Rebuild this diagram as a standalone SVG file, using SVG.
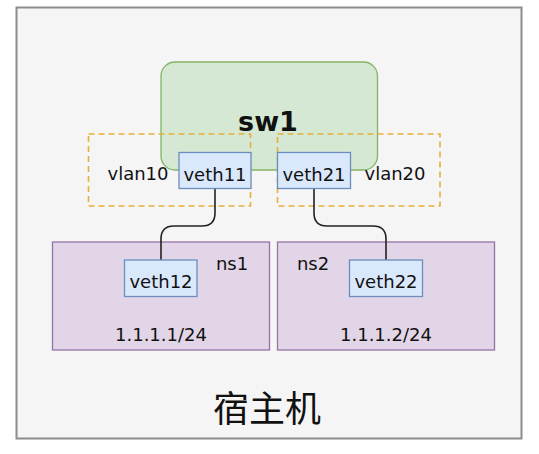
<svg xmlns="http://www.w3.org/2000/svg" width="539" height="454" viewBox="0 0 539 454">
<style>
  .t { font-family: "DejaVu Sans", "Liberation Sans", sans-serif; font-size: 18px; fill: #111; text-anchor: middle; }
  .port { fill: #dae8fc; stroke: #6c8ebf; stroke-width: 1.3; }
  .ns { fill: #e1d5e7; stroke: #9673a6; stroke-width: 1.3; }
  .vlan { fill: none; stroke: #e5b03a; stroke-width: 1.6; stroke-dasharray: 6 4; }
  .wire { fill: none; stroke: #222; stroke-width: 1.6; }
</style>
<rect width="539" height="454" fill="#ffffff"/>
<g id="host">
  <rect x="16.5" y="7.5" width="505" height="431" fill="#f5f5f5" stroke="#8c8c8c" stroke-width="2"/>
  <text x="267" y="422" style="font-family: 'Noto Sans CJK SC', 'Noto Sans', sans-serif; font-size: 36px; fill: #111; text-anchor: middle;">宿主机</text>
</g>
<g id="sw1">
  <rect x="161" y="62" width="216.5" height="108" rx="14" fill="#d5e8d4" stroke="#82b366" stroke-width="1.3"/>
  <text x="268" y="131" class="t" style="font-size: 27px; font-weight: bold;">sw1</text>
</g>
<g id="vlan10">
  <rect x="88.5" y="134" width="162" height="72" class="vlan"/>
  <text x="138" y="180" class="t">vlan10</text>
</g>
<g id="vlan20">
  <rect x="277.5" y="134" width="162.5" height="72" class="vlan"/>
  <text x="395" y="180" class="t">vlan20</text>
</g>
<g id="ns1">
  <rect x="52.5" y="242" width="217" height="108" class="ns"/>
  <text x="232" y="270" class="t">ns1</text>
  <text x="161" y="341" class="t">1.1.1.1/24</text>
</g>
<g id="ns2">
  <rect x="277.5" y="242" width="217" height="108" class="ns"/>
  <text x="313" y="270" class="t">ns2</text>
  <text x="386" y="341" class="t">1.1.1.2/24</text>
</g>
<g id="connectors">
  <path class="wire" d="M215,188 V213 Q215,226 202,226 H174 Q161,226 161,239 V260"/>
  <path class="wire" d="M314,188 V213 Q314,226 327,226 H373 Q386,226 386,239 V260"/>
</g>
<g id="veth11">
  <rect x="179" y="152.5" width="72" height="36" class="port"/>
  <text x="215" y="181" class="t">veth11</text>
</g>
<g id="veth21">
  <rect x="277.5" y="152.5" width="73" height="36" class="port"/>
  <text x="314" y="181" class="t">veth21</text>
</g>
<g id="veth12">
  <rect x="124.5" y="260" width="72.5" height="36.5" class="port"/>
  <text x="161" y="288" class="t">veth12</text>
</g>
<g id="veth22">
  <rect x="349.5" y="260" width="73" height="36.5" class="port"/>
  <text x="386" y="288" class="t">veth22</text>
</g>
</svg>
